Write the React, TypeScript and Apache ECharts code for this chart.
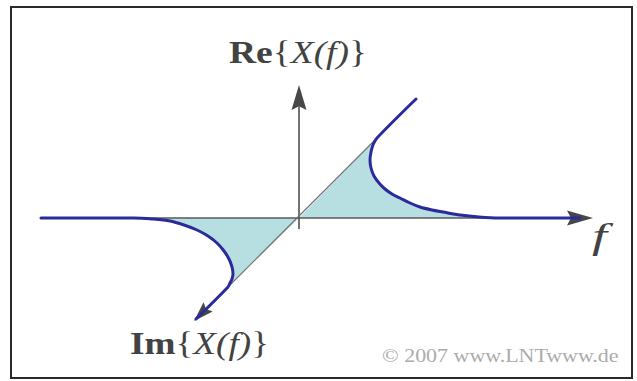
import React, { useEffect, useRef } from "react";
import * as echarts from "echarts";

// Coordinates relative to the crossing of the axes (f to the right, upwards positive), 1 unit = 1 px
const xRange = [-299, 338];
const yRange = [-163, 218];

// Blue curve for f > 0 (starts on the Im axis, decays onto the f axis)
const upperCurve: number[][] = [
  [117, 119], [78, 80], [74, 73], [72, 66], [71, 58], [72, 50], [75, 42], [80, 35],
  [86, 29], [93, 24], [101, 20], [111, 15], [121, 11], [133, 8], [144, 6], [161, 3],
  [180, 1], [200, 0], [281, 0],
];
// Blue curve for f < 0
const lowerCurve: number[][] = [
  [-258, 0], [-165, 0], [-147, -1], [-129, -3], [-115, -7], [-102, -12], [-91, -18],
  [-82, -25], [-75, -33], [-70, -41], [-67, -49], [-66, -56], [-67, -61], [-69, -65],
  [-71, -69], [-103, -101],
];
// Axes: [x1, y1, x2, y2] with arrowhead at the second point
const axisF = [-258, 0, 294, 0];
const axisRe = [0, -11, 0, 133];
const axisIm = [117, 119, -105, -103];

const labelRe = "{b|Re}{{i|X(f)}}";
const labelIm = "{b|Im}{{i|X(f)}}";
const labelF = "f";
const copyright = "© 2007 www.LNTwww.de";

const upperFill = [[0, 0], ...upperCurve.slice(1, upperCurve.findIndex((p) => p[1] === 0) + 1)];
const lowerFill = [[0, 0], ...lowerCurve.slice(1, lowerCurve.length - 1)];

const axes = [
  { def: axisF, color: "#5a5a5a", width: 1.6, len: 26, w: 15 },
  { def: axisRe, color: "#505050", width: 1.6, len: 25, w: 15 },
  { def: axisIm, color: "#6e6e6e", width: 1.2, len: 20, w: 13 },
];

export default function App() {
  const ref = useRef<HTMLDivElement>(null);
  useEffect(() => {
    document.body.style.margin = "0";
    const chart = echarts.init(ref.current!, null, { renderer: "svg" });
    const fillSeries = (pts: number[][]) => ({
      type: "custom",
      coordinateSystem: "cartesian2d",
      z: 1,
      silent: true,
      data: [[0, 0]],
      renderItem: (_p: any, api: any) => ({
        type: "polygon",
        shape: { points: pts.map((p) => api.coord(p)) },
        style: { fill: "#b7dfe2", stroke: null },
      }),
    });
    const serif = "Times New Roman, Liberation Serif, serif";
    const richLabel = {
      b: { fontFamily: serif, fontSize: 31, fontWeight: "bold", fill: "#424242" },
      i: { fontFamily: serif, fontSize: 31, fontStyle: "italic", fill: "#424242" },
    };
    chart.setOption({
      animation: false,
      backgroundColor: "#ffffff",
      grid: { left: 0, right: 0, top: 0, bottom: 0 },
      xAxis: { type: "value", min: xRange[0], max: xRange[1], show: false },
      yAxis: { type: "value", min: yRange[0], max: yRange[1], show: false },
      graphic: [
        {
          type: "rect",
          shape: { x: 11, y: 7, width: 621, height: 371 },
          style: { fill: "none", stroke: "#2a2a2a", lineWidth: 2 },
          z: 0,
        },
        {
          type: "text",
          x: 229,
          y: 52,
          scaleX: 1.21,
          style: {
            text: labelRe,
            fontFamily: serif,
            fontSize: 31,
            fill: "#424242",
            verticalAlign: "middle",
            align: "left",
            rich: richLabel,
          },
        },
        {
          type: "text",
          x: 130,
          y: 343,
          scaleX: 1.2,
          style: {
            text: labelIm,
            fontFamily: serif,
            fontSize: 31,
            fill: "#424242",
            verticalAlign: "middle",
            align: "left",
            rich: richLabel,
          },
        },
        {
          type: "text",
          x: 592,
          y: 236,
          scaleX: 1.5,
          style: {
            text: labelF,
            fontFamily: serif,
            fontSize: 36,
            fontStyle: "italic",
            fill: "#424242",
            verticalAlign: "middle",
            align: "left",
          },
        },
        {
          type: "text",
          x: 382,
          y: 356,
          scaleX: 1.22,
          style: {
            text: copyright,
            fontFamily: serif,
            fontSize: 18,
            fill: "#ababab",
            verticalAlign: "middle",
            align: "left",
          },
        },
      ],
      series: [
        fillSeries(upperFill),
        fillSeries(lowerFill),
        {
          type: "custom",
          coordinateSystem: "cartesian2d",
          z: 2,
          silent: true,
          data: axes.map((a) => [a.def[2], a.def[3]]),
          renderItem: (params: any, api: any) => {
            const a = axes[params.dataIndex];
            const p1 = api.coord([a.def[0], a.def[1]]);
            const p2 = api.coord([a.def[2], a.def[3]]);
            const dx = p2[0] - p1[0];
            const dy = p2[1] - p1[1];
            const L = Math.sqrt(dx * dx + dy * dy);
            const ux = dx / L;
            const uy = dy / L;
            const nx = -uy;
            const ny = ux;
            const bx = p2[0] - ux * a.len;
            const by = p2[1] - uy * a.len;
            const notch = [p2[0] - ux * a.len * 0.85, p2[1] - uy * a.len * 0.85];
            return {
              type: "group",
              children: [
                {
                  type: "line",
                  shape: { x1: p1[0], y1: p1[1], x2: notch[0], y2: notch[1] },
                  style: { stroke: a.color, lineWidth: a.width },
                },
                {
                  type: "polygon",
                  shape: {
                    points: [
                      p2,
                      [bx + (nx * a.w) / 2, by + (ny * a.w) / 2],
                      notch,
                      [bx - (nx * a.w) / 2, by - (ny * a.w) / 2],
                    ],
                  },
                  style: { fill: "#474747" },
                },
              ],
            };
          },
        },
        {
          type: "line",
          z: 3,
          silent: true,
          data: upperCurve,
          smooth: 0.3,
          showSymbol: false,
          lineStyle: { color: "#2b2a9c", width: 3, cap: "round" },
        },
        {
          type: "line",
          z: 3,
          silent: true,
          data: lowerCurve,
          smooth: 0.3,
          showSymbol: false,
          lineStyle: { color: "#2b2a9c", width: 3, cap: "round" },
        },
      ],
    });
    return () => chart.dispose();
  }, []);
  return <div ref={ref} style={{ width: 637, height: 381 }} />;
}
